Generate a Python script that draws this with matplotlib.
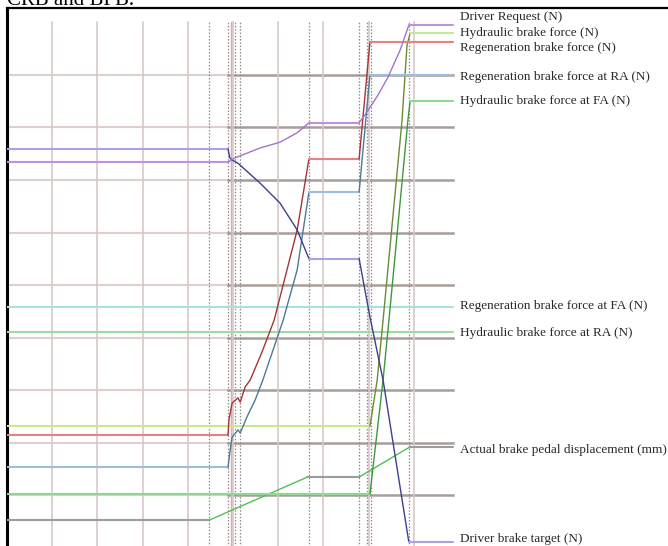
import matplotlib
matplotlib.use("Agg")
import matplotlib.pyplot as plt
import numpy as np

# time axis in s, forces / displacement in normalised grid units
t_request = [0, 4.89, 5.04, 5.60, 6.04, 6.42, 6.68, 7.79, 7.96, 8.21, 8.43, 8.70, 8.89, 9.87]
driver_request = [7.34, 7.34, 7.42, 7.61, 7.72, 7.90, 8.09, 8.09, 8.29, 8.62, 8.96, 9.48, 9.95, 9.95]

t_target = [0, 4.89, 4.93, 4.98, 5.11, 5.60, 6.04, 6.42, 6.68, 7.79, 8.03, 8.32, 8.89, 9.87]
driver_target = [7.59, 7.59, 7.42, 7.38, 7.32, 6.94, 6.56, 6.05, 5.50, 5.50, 4.39, 3.19, 0.105, 0.105]

t_regen = [0, 4.89, 4.91, 4.98, 5.11, 5.16, 5.27, 5.38, 5.64, 5.91, 6.42, 6.68, 7.79, 8.03, 9.87]
regen_force = [2.14, 2.14, 2.43, 2.75, 2.85, 2.77, 3.06, 3.19, 3.72, 4.33, 6.05, 7.40, 7.40, 9.63, 9.63]

t_regen_ra = [0, 4.89, 4.93, 4.98, 5.11, 5.16, 5.31, 5.49, 5.66, 6.11, 6.42, 6.68, 7.79, 8.03, 9.87]
regen_ra = [1.53, 1.53, 1.82, 2.10, 2.24, 2.18, 2.49, 2.81, 3.19, 4.33, 5.29, 6.77, 6.77, 9.00, 9.00]

t_hyd = [0, 8.03, 8.19, 8.32, 8.74, 8.85, 8.92, 9.87]
hyd_force = [2.31, 2.31, 3.19, 4.33, 8.14, 9.57, 9.80, 9.80]

t_hyd_fa = [0, 8.03, 8.32, 8.45, 8.87, 8.92, 9.87]
hyd_fa = [1.02, 1.02, 3.19, 4.33, 8.14, 8.51, 8.51]

t_flat = [0, 9.87]
regen_fa = [4.58, 4.58]
hyd_ra = [4.10, 4.10]

t_pedal = [0, 4.47, 6.64, 7.79, 8.92, 9.87]
pedal_disp = [0.52, 0.52, 1.34, 1.34, 1.92, 1.92]

events = [4.47, 4.89, 5.04, 5.15, 6.68, 7.79, 7.96, 8.05, 8.90]

labels = ["Driver Request (N)", "Hydraulic brake force (N)", "Regeneration brake force (N)",
          "Regeneration brake force at RA (N)", "Hydraulic brake force at FA (N)",
          "Regeneration brake force at FA (N)", "Hydraulic brake force at RA (N)",
          "Actual brake pedal displacement (mm)", "Driver brake target (N)"]
label_y = [10.10, 9.80, 9.51, 8.96, 8.50, 4.60, 4.09, 1.86, 0.16]

X_END = 9.87
SERIF = "Liberation Serif"


def trace(ax, x, y, flat_color, slope_color, lw_flat=1.5, lw_slope=1.0):
    # flat stretches print lighter/thicker than ramps, so draw them separately
    runs = []
    for i in range(len(x) - 1):
        flat = y[i] == y[i + 1]
        if runs and runs[-1][0] == flat:
            runs[-1][1].append(i + 1)
        else:
            runs.append((flat, [i, i + 1]))
    for flat, idx in runs:
        xs = [x[k] for k in idx]
        ys = [y[k] for k in idx]
        ax.plot(xs, ys, color=flat_color if flat else slope_color,
                lw=lw_flat if flat else lw_slope, solid_capstyle="round", zorder=3)


fig = plt.figure(figsize=(6.68, 5.46), dpi=100)
ax = fig.add_axes([7 / 668, 0, 661 / 668, 538 / 546])
ax.set_xlim(0, 661 / 45.2)
ax.set_ylim(0.029, 10.276)
ax.set_xticks([])
ax.set_yticks([])
for side in ["right", "bottom"]:
    ax.spines[side].set_visible(False)
ax.spines["left"].set_linewidth(2.2)
ax.spines["top"].set_linewidth(1.6)

# grid: light before the first brake event, darker afterwards
for gy in range(1, 10):
    ax.plot([0, 4.89], [gy, gy], color="#ddd0cf", lw=1.5, zorder=1)
    ax.plot([4.89, X_END], [gy, gy], color="#a99d99", lw=1.8, zorder=1)
for gx in range(1, 10):
    ax.plot([gx, gx], [0, 10], color="#d8c9c8", lw=1.2, zorder=1)
for ex in events:
    ax.plot([ex, ex], [0, 10], color="#8c8c8c", lw=0.9, ls=(0, (1.2, 1.4)), zorder=2)
ax.plot([4.95, 4.95], [0, 10], color="#e3a8a8", lw=1.0, zorder=2)

trace(ax, t_flat, regen_fa, "#a8e2da", "#a8e2da")
trace(ax, t_flat, hyd_ra, "#9edc9e", "#9edc9e")
trace(ax, t_pedal, pedal_disp, "#9c9c9c", "#52c052")
trace(ax, t_hyd_fa, hyd_fa, "#90d890", "#3d993d")
trace(ax, t_hyd, hyd_force, "#c8e894", "#6c8c34")
trace(ax, t_regen_ra, regen_ra, "#9ebcdf", "#4c7a9a")
trace(ax, t_regen, regen_force, "#e88282", "#a33636")
trace(ax, t_target, driver_target, "#aaa2e8", "#3e3e92")
trace(ax, t_request, driver_request, "#bd92e2", "#a274cc")

for text, ly in zip(labels, label_y):
    ax.text(10.02, ly, text, va="center", ha="left", fontsize=9.5,
            family=SERIF, color="#2a2a2a", clip_on=False)

fig.text(7 / 668, 1 - 5 / 546, "CRB and BPB.", fontsize=15, family=SERIF,
         va="baseline", ha="left", color="black")

fig.savefig("out.png", dpi=100)
